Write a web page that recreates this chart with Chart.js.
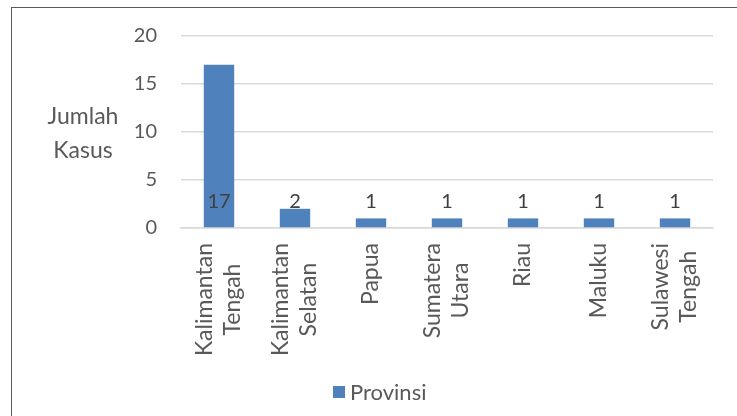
<!DOCTYPE html>
<html>
<head>
<meta charset="utf-8">
<script src="https://cdn.jsdelivr.net/npm/chart.js@4"></script>
<style>
  body { margin: 0; background: #fff; }
  #wrap { position: relative; width: 737px; height: 416px; overflow: hidden; }
  #frame { position: absolute; left: 11px; top: 7px; width: 800px; height: 500px;
           border-top: 1.5px solid #5a5a5a; border-left: 1.5px solid #5a5a5a; }
  canvas { position: absolute; left: 0; top: 0; }
</style>
</head>
<body>
<div id="wrap">
  <div id="frame"></div>
  <canvas id="barChartID" width="737" height="416"></canvas>
</div>
<script>
'use strict';

const provinces = [
  ['Kalimantan', 'Tengah'],
  ['Kalimantan', 'Selatan'],
  ['Papua'],
  ['Sumatera', 'Utara'],
  ['Riau'],
  ['Maluku'],
  ['Sulawesi', 'Tengah']
];
const cases = [17, 2, 1, 1, 1, 1, 1];
const yTicks = [0, 5, 10, 15, 20];
const seriesName = 'Provinsi';
const barColor = '#4F81BD';

const fontName = 'Lato, "Open Sans", sans-serif';
const textColor = '#595959';

// labels, axis title and legend drawn by hand so they sit like the original
const labelPlugin = {
  id: 'labelPlugin',
  afterDraw(chart) {
    const ctx = chart.ctx;
    const meta = chart.getDatasetMeta(0);
    const xs = chart.scales.x;
    const y = chart.scales.y.getPixelForValue(1) - 10;
    ctx.save();

    // value labels on one line
    ctx.font = '20px ' + fontName;
    ctx.fillStyle = '#404040';
    ctx.textAlign = 'center';
    ctx.textBaseline = 'alphabetic';
    meta.data.forEach(function (bar, i) {
      ctx.fillText(String(cases[i]), bar.x, y);
    });

    // category labels, rotated, lines centred on each other
    ctx.font = '23px ' + fontName;
    ctx.fillStyle = textColor;
    ctx.textBaseline = 'middle';
    for (let i = 0; i < provinces.length; i++) {
      const lines = provinces[i];
      let maxW = 0;
      lines.forEach(l => { maxW = Math.max(maxW, ctx.measureText(l).width); });
      const cx = xs.getPixelForTick(i);
      const cy = xs.top + 15 + maxW / 2;
      const lh = 28;
      lines.forEach(function (l, k) {
        const off = (k - (lines.length - 1) / 2) * lh;
        ctx.save();
        ctx.translate(cx + off, cy);
        ctx.rotate(-Math.PI / 2);
        ctx.fillText(l, 0, 0);
        ctx.restore();
      });
    }

    // axis title, horizontal
    ctx.textBaseline = 'alphabetic';
    ctx.fillText('Jumlah', 83, 124);
    ctx.fillText('Kasus', 83, 158);

    // legend
    ctx.fillStyle = barColor;
    ctx.fillRect(333, 386, 12, 12);
    ctx.fillStyle = textColor;
    ctx.font = '22px ' + fontName;
    ctx.textAlign = 'left';
    ctx.fillText(seriesName, 350, 400);

    ctx.restore();
  }
};

const data = {
  labels: provinces,
  datasets: [{
    label: seriesName,
    data: cases,
    backgroundColor: barColor,
    borderWidth: 0,
    barPercentage: 0.4,
    categoryPercentage: 1.0
  }]
};

const config = {
  type: 'bar',
  data: data,
  options: {
    responsive: false,
    animation: false,
    layout: { padding: { top: 34, left: 0, right: 24, bottom: 0 } },
    plugins: {
      legend: { display: false },
      tooltip: { enabled: false }
    },
    scales: {
      y: {
        min: 0, max: 20,
        afterBuildTicks(axis) { axis.ticks = yTicks.map(v => ({ value: v })); },
        afterFit(axis) { axis.width = 181; },
        border: { display: false },
        grid: { color: '#d9d9d9', lineWidth: 1.5, drawTicks: false },
        ticks: { color: textColor, padding: 24, font: { size: 20, family: fontName } }
      },
      x: {
        afterFit(axis) { axis.height = 188; },
        border: { color: '#d9d9d9', width: 1.5 },
        grid: { display: false },
        ticks: { display: false }
      }
    }
  },
  plugins: [labelPlugin]
};

const barChart = new Chart(document.getElementById('barChartID'), config);
</script>
</body>
</html>
